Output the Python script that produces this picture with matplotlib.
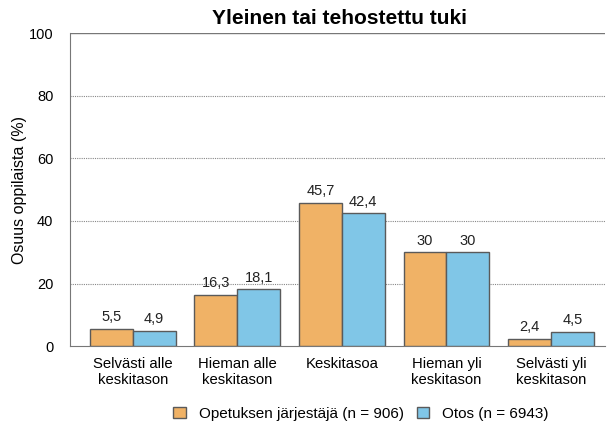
import matplotlib
matplotlib.use("Agg")
import matplotlib.pyplot as plt
import numpy as np

plt.rcParams['font.family'] = ['Liberation Sans', 'DejaVu Sans']

categories = ["Selvästi alle\nkeskitason", "Hieman alle\nkeskitason", "Keskitasoa",
              "Hieman yli\nkeskitason", "Selvästi yli\nkeskitason"]
jarjestaja = [5.5, 16.3, 45.7, 30, 2.4]
otos = [4.9, 18.1, 42.4, 30, 4.5]
labels_j = ["5,5", "16,3", "45,7", "30", "2,4"]
labels_o = ["4,9", "18,1", "42,4", "30", "4,5"]
series_names = ["Opetuksen järjestäjä (n = 906)", "Otos (n = 6943)"]
yticks = [0, 20, 40, 60, 80, 100]

c_orange = "#F0B266"
c_blue = "#80C6E7"
edge = "#5a5a5a"

fig = plt.figure(figsize=(6.07, 4.30), dpi=100)
ax = fig.add_axes([0.1153, 0.195, 0.882, 0.728])

x = np.arange(len(categories))
w = 0.41
b1 = ax.bar(x - w/2, jarjestaja, w, color=c_orange, edgecolor=edge, linewidth=1.0, label=series_names[0], zorder=3)
b2 = ax.bar(x + w/2, otos, w, color=c_blue, edgecolor=edge, linewidth=1.0, label=series_names[1], zorder=3)

for rect, t in zip(b1, labels_j):
    ax.text(rect.get_x() + rect.get_width()/2, rect.get_height() + 1.5, t,
            ha='center', va='bottom', fontsize=10.5, color='#222222')
for rect, t in zip(b2, labels_o):
    ax.text(rect.get_x() + rect.get_width()/2, rect.get_height() + 1.5, t,
            ha='center', va='bottom', fontsize=10.5, color='#222222')

ax.set_xlim(-0.6, 4.52)
ax.set_ylim(0, 100)
ax.set_yticks(yticks)
ax.set_yticklabels([str(v) for v in yticks], fontsize=10.5)
ax.set_xticks(x)
ax.set_xticklabels(categories, fontsize=10.7)
ax.tick_params(axis='x', length=0, pad=8)
ax.tick_params(axis='y', length=0, pad=12)

for v in [20, 40, 60, 80]:
    ax.axhline(v, color='#888888', linestyle=(0, (1, 1)), linewidth=0.8, zorder=1)
ax.axhline(100, color='#777777', linewidth=1.0, zorder=1)

ax.spines['right'].set_visible(False)
ax.spines['top'].set_visible(False)
ax.spines['left'].set_color('#777777')
ax.spines['bottom'].set_color('#777777')

ax.set_ylabel("Osuus oppilaista (%)", fontsize=11.5)
ax.yaxis.set_label_coords(-0.08, 0.5)
fig.text(0.56, 0.958, "Yleinen tai tehostettu tuki", ha='center', va='center',
         fontsize=15, fontweight='bold')

fig.legend(handles=[b1, b2], labels=series_names, loc='center', bbox_to_anchor=(0.595, 0.038),
           ncol=2, frameon=False, fontsize=11, handlelength=0.8, handleheight=0.8,
           columnspacing=0.8, handletextpad=0.9)

fig.savefig("out.png", dpi=100)
